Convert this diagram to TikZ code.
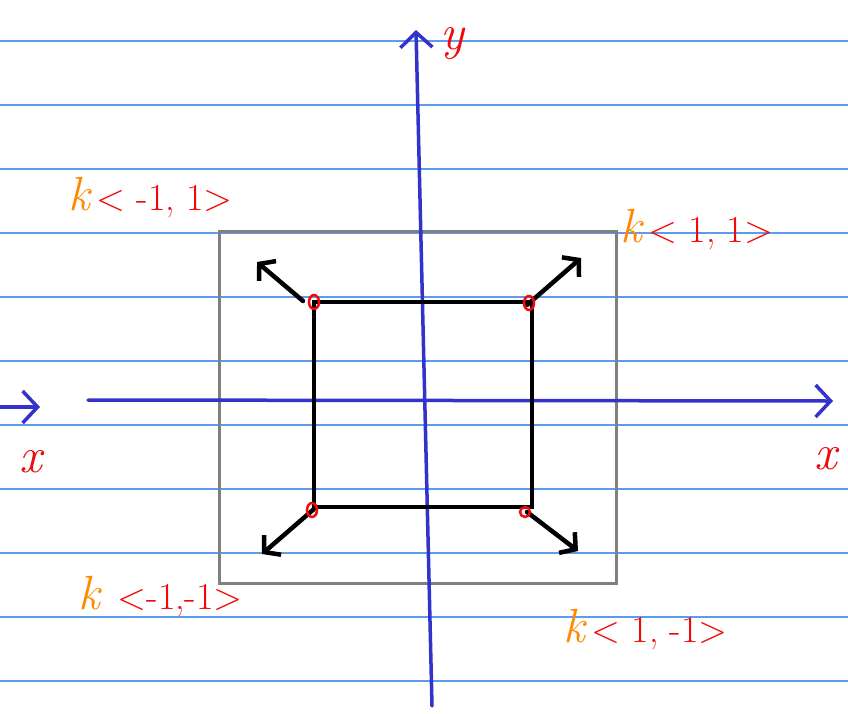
\documentclass[tikz,border=0pt]{standalone}
\usepackage{fontspec}
\usetikzlibrary{arrows.meta}
\definecolor{rulecol}{HTML}{5E9BEA}
\definecolor{axisblue}{HTML}{3333CC}
\definecolor{korange}{HTML}{FF8A00}
\definecolor{penred}{HTML}{F00A0A}
\definecolor{boxgray}{HTML}{808080}
\begin{document}
\begin{tikzpicture}[x=1pt,y=-1pt,
  ruleline/.style={rulecol,line width=1.2pt},
  axisline/.style={axisblue,line width=3.5pt,line cap=round,-{Straight Barb[length=15pt,width=32pt,line width=3.5pt]}},
  vecline/.style={black,line width=4.5pt,line cap=round,-{Straight Barb[length=11pt,width=26pt,line width=4.5pt]}},
  dot/.style={penred,line width=2.5pt},
  axlab/.style={text=penred,font=\fontsize{50}{52}\selectfont\itshape,inner sep=0pt},
  veclab/.style={text=penred,font=\fontsize{38}{40}\selectfont,inner sep=0pt},
  kk/.style={}
]
\useasboundingbox (0,0) rectangle (848,713);
\fill[white] (0,0) rectangle (848,713);
\foreach \yy in {41,105,169,233,297,361,425,489,553,617,681}
  \draw[ruleline] (0,\yy) -- (848,\yy);
% gray outer box
\draw[boxgray,line width=3pt] (219,231) rectangle (616,583);
% axes
\coordinate (xs) at (88,400);
\coordinate (xe) at (833,401);
\coordinate (ys) at (432,706);
\coordinate (ye) at (416,30);
\coordinate (ls) at (0,407);
\coordinate (le) at (40,407);
\draw[axisline] (xs) -- (xe);
\draw[axisline] (ys) -- (ye);
\draw[axisline] (ls) -- (le);
% black square
\coordinate (A) at (314,302);
\coordinate (B) at (532,302);
\coordinate (C) at (532,507);
\coordinate (D) at (314,507);
\draw[black,line width=4pt,line join=miter] (A) -- (B) -- (C) -- (D) -- cycle;
% corner vectors
\coordinate (a1) at (303,301); \coordinate (a2) at (257,262);
\coordinate (b1) at (527,305); \coordinate (b2) at (581,258);
\coordinate (c1) at (527,512); \coordinate (c2) at (578,551);
\coordinate (d1) at (314,509); \coordinate (d2) at (262,554);
\draw[vecline] (a1) -- (a2);
\draw[vecline] (b1) -- (b2);
\draw[vecline] (c1) -- (c2);
\draw[vecline] (d1) -- (d2);
% red corner circles
\draw[dot] (314,302) ellipse [x radius=5pt,y radius=7pt];
\draw[dot] (529,303) ellipse [x radius=5pt,y radius=7pt];
\draw[dot] (312,510) ellipse [x radius=5pt,y radius=7pt];
\draw[dot] (525,512) ellipse [x radius=5pt,y radius=5pt];
% axis labels
\node[axlab] (ylab) at (452,44) {y};
\node[axlab] (xlab1) at (31,462) {x};
\node[axlab] (xlab2) at (826,459) {x};
% vector labels
\node[veclab,anchor=west] (ltl) at (68,198) {{\color{korange}\fontsize{48}{50}\selectfont\itshape k}\,< -1, 1>};
\node[veclab,anchor=west] (ltr) at (620,230) {{\color{korange}\fontsize{48}{50}\selectfont\itshape k}\,< 1, 1>};
\node[veclab,anchor=west] (lbl) at (78,597) {{\color{korange}\fontsize{48}{50}\selectfont\itshape k}\, <-1,-1>};
\node[veclab,anchor=west] (lbr) at (563,630) {{\color{korange}\fontsize{48}{50}\selectfont\itshape k}\,< 1, -1>};
\end{tikzpicture}
\end{document}
